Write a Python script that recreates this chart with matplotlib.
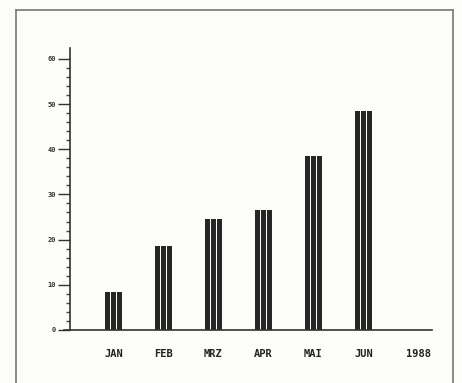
import matplotlib
matplotlib.use('Agg')
import matplotlib.pyplot as plt
from matplotlib.lines import Line2D
import numpy as np

months = ['JAN', 'FEB', 'MRZ', 'APR', 'MAI', 'JUN']
values = [8.5, 18.5, 24.5, 26.5, 38.5, 48.5]
year_label = '1988'

W, H = 462, 383
fig = plt.figure(figsize=(W / 100, H / 100), dpi=100, facecolor='#fcfcf8')

# frame around the picture (bottom edge falls outside)
for xs, ys in [([16, 16], [10, 383]), ([16, 453], [10, 10]), ([453, 453], [10, 383])]:
    fig.add_artist(Line2D([x / W for x in xs], [1 - y / H for y in ys],
                          color='#777777', lw=1.2))

ax = fig.add_axes([70 / W, (H - 330) / H, (432 - 70) / W, (330 - 48) / H])
ax.set_facecolor('none')

x = np.arange(1, len(months) + 1)
stripe = 0.1
for off in (-0.115, 0, 0.115):
    ax.bar(x + off, values, width=stripe, color='#262626', linewidth=0)

ax.set_xlim(0.13, 7.37)
ax.set_ylim(0, 62.4)

for s in ['top', 'right']:
    ax.spines[s].set_visible(False)
ax.spines['left'].set_color('#333333')
ax.spines['bottom'].set_color('#333333')
ax.spines['left'].set_linewidth(1.2)
ax.spines['bottom'].set_linewidth(1.2)
ax.spines['bottom'].set_bounds(-0.0, 7.37)

ax.set_yticks(np.arange(0, 61, 10))
ax.set_yticks(np.arange(0, 61, 2), minor=True)
ax.tick_params(axis='y', which='major', direction='out', length=9, width=1,
               color='#333333', labelsize=5, pad=1, labelcolor='#333333')
ax.tick_params(axis='y', which='minor', direction='out', length=3, width=1,
               color='#444444')
ax.set_yticklabels([str(v) for v in range(0, 61, 10)], family='DejaVu Sans Mono',
                   fontweight='bold')

ax.set_xticks(list(x) + [7.1])
ax.set_xticklabels(months + [year_label], family='DejaVu Sans Mono',
                   fontweight='bold', fontsize=7.5, color='#222222')
ax.tick_params(axis='x', length=0, pad=14)

fig.savefig('out.png', dpi=100, facecolor=fig.get_facecolor())
